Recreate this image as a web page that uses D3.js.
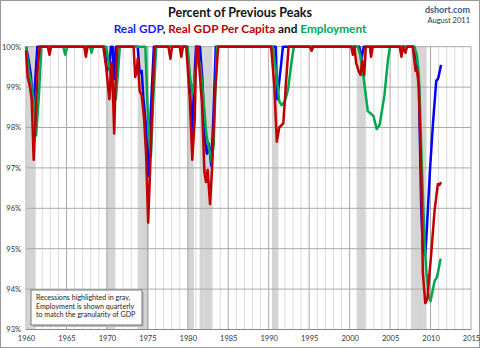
<!DOCTYPE html>
<html lang="en">
<head>
<meta charset="utf-8">
<title>Percent of Previous Peaks</title>
<script src="https://cdn.jsdelivr.net/npm/d3@7"></script>
<style>
  body { margin: 0; background: #fff; }
  text { font-family: Lato, "Open Sans", sans-serif; }
  .axis path, .axis line { display: none; }
  .axis text { font-size: 7.5px; fill: #333; font-family: Lato, sans-serif; }
</style>
</head>
<body>
<script>
// chart size and plot box
var width = 480, height = 348;
var plotLeft = 26, plotRight = 471, plotTop = 46.7, plotBottom = 329.5;

// recession periods (start, end) as decimal years
var recessions = [
  [1960.1, 1961.2], [1969.95, 1971.0], [1973.8, 1975.2], [1979.95, 1980.75],
  [1981.45, 1983.0], [1990.4, 1991.2], [2000.85, 2001.95], [2007.6, 2009.5]
];

// real GDP, percent of previous peak [year, pct]
var realGdp = [
  [1960.0, 100], [1960.3, 99.7], [1960.6, 99.3], [1960.9, 98.45], [1961.15, 99.2], [1961.4, 100],
  [1969.7, 100], [1970.0, 99.4], [1970.3, 99.5], [1970.5, 100], [1970.7, 100], [1970.9, 99.2], [1971.1, 100],
  [1973.8, 100], [1974.05, 99.35], [1974.3, 99.4], [1974.5, 98.75], [1974.8, 98.1], [1975.1, 96.8],
  [1975.4, 98.3], [1975.8, 100],
  [1979.95, 100], [1980.25, 99.1], [1980.5, 97.75], [1980.75, 98.9], [1981.0, 100],
  [1981.5, 100], [1981.8, 99.2], [1982.1, 97.7], [1982.35, 97.35], [1982.6, 97.6], [1982.9, 97.05],
  [1983.15, 98.2], [1983.45, 100],
  [1990.85, 100], [1991.05, 98.7], [1991.5, 99.5], [1991.75, 100],
  [2001.2, 100], [2001.45, 99.7], [2001.75, 100],
  [2007.95, 100], [2008.25, 99.7], [2008.55, 99.1], [2008.85, 96.0], [2009.05, 95.05], [2009.35, 94.85],
  [2009.55, 95.5], [2009.9, 96.85], [2010.3, 98.1], [2010.7, 99.15], [2010.95, 99.22], [2011.3, 99.55]
];

// real GDP per capita
var gdpPerCapita = [
  [1960.0, 99.9], [1960.2, 99.25], [1960.5, 99.0], [1960.7, 98.7], [1960.95, 97.2], [1961.2, 98.3],
  [1961.45, 99.5], [1961.7, 100],
  [1962.7, 100], [1962.9, 99.8], [1963.1, 100],
  [1967.2, 100], [1967.4, 99.75], [1967.6, 100],
  [1969.55, 100], [1969.9, 99.5], [1970.3, 98.7], [1970.55, 99.6], [1970.65, 99.5], [1970.9, 97.85],
  [1971.05, 99.0], [1971.3, 100],
  [1973.3, 100], [1973.5, 99.25], [1973.7, 99.4], [1973.8, 99.7], [1974.05, 98.9], [1974.3, 98.8],
  [1974.6, 98.2], [1974.85, 97.3], [1975.1, 95.65], [1975.35, 97.0], [1975.6, 98.5], [1975.9, 100],
  [1977.6, 100], [1977.85, 99.7], [1978.05, 100],
  [1979.0, 100], [1979.2, 99.75], [1979.4, 100],
  [1979.8, 100], [1980.25, 98.7], [1980.55, 97.2], [1980.85, 98.2], [1981.05, 100], [1981.25, 100],
  [1981.45, 99.4], [1981.75, 98.6], [1982.05, 96.9], [1982.25, 96.65], [1982.45, 96.95], [1982.75, 96.1],
  [1983.0, 97.0], [1983.35, 98.8], [1983.75, 100],
  [1990.3, 100], [1990.7, 99.0], [1991.0, 97.65], [1991.3, 98.0], [1991.8, 98.1], [1992.1, 99.0], [1992.45, 100],
  [1995.1, 100], [1995.3, 99.9], [1995.5, 100],
  [2000.2, 100], [2000.4, 99.8], [2000.6, 100], [2000.8, 99.6], [2001.1, 99.4], [2001.35, 99.3],
  [2001.55, 99.65], [2001.8, 99.3], [2002.0, 100], [2002.5, 100], [2002.65, 99.75], [2002.85, 100],
  [2006.2, 100], [2006.4, 99.75], [2006.6, 100], [2006.9, 99.85], [2007.1, 100],
  [2007.8, 100], [2008.15, 99.4], [2008.3, 99.5], [2008.55, 99.0], [2008.85, 96.85], [2009.05, 94.4],
  [2009.35, 93.65], [2009.6, 93.75], [2010.05, 94.8], [2010.5, 95.95], [2010.9, 96.6], [2011.1, 96.58],
  [2011.3, 96.65]
];

// employment, quarterly
var employment = [
  [1960.0, 100], [1960.4, 99.35], [1960.9, 98.75], [1961.25, 97.8], [1961.6, 98.8], [1961.9, 100],
  [1964.6, 100], [1964.85, 99.8], [1965.1, 100],
  [1967.9, 100], [1968.1, 99.85], [1968.3, 100],
  [1969.9, 100], [1970.3, 99.5], [1970.6, 99.1], [1970.9, 98.65], [1971.1, 98.7], [1971.35, 99.3], [1971.6, 100],
  [1974.75, 100], [1975.0, 98.6], [1975.3, 97.5], [1975.45, 97.3], [1975.7, 98.6], [1976.1, 100],
  [1979.95, 100], [1980.3, 99.2], [1980.6, 98.85], [1980.9, 99.3], [1981.2, 99.75], [1981.5, 99.6],
  [1981.85, 98.9], [1982.3, 97.8], [1982.95, 97.15], [1983.2, 97.6], [1983.6, 100],
  [1990.5, 100], [1990.9, 99.4], [1991.3, 98.65], [1991.6, 98.55], [1992.0, 98.65], [1992.4, 98.95],
  [1992.8, 99.6], [1993.1, 100],
  [2001.0, 100], [2001.3, 99.8], [2001.65, 99.35], [2002.25, 98.4], [2002.6, 98.35], [2002.95, 98.28],
  [2003.35, 97.96], [2003.7, 98.06], [2004.3, 98.8], [2004.75, 99.7], [2005.0, 100],
  [2008.0, 100], [2008.3, 99.8], [2008.55, 99.3], [2008.7, 98.5], [2008.95, 96.9], [2009.25, 95.2],
  [2009.5, 94.4], [2009.75, 93.85], [2010.0, 93.7], [2010.25, 93.95], [2010.5, 94.2], [2010.8, 94.3],
  [2011.25, 94.75]
];

var yTicks = [93, 94, 95, 96, 97, 98, 99, 100];
var xTicks = [1960, 1965, 1970, 1975, 1980, 1985, 1990, 1995, 2000, 2005, 2010, 2015];

var x = d3.scaleLinear().domain([1960, 2015]).range([plotLeft, plotRight]);
var y = d3.scaleLinear().domain([93, 100]).range([plotBottom, plotTop]);

var svg = d3.select("body").append("svg")
    .attr("width", width)
    .attr("height", height);

svg.append("rect")
    .attr("x", 0.5).attr("y", 0.5)
    .attr("width", width - 1).attr("height", height - 1)
    .attr("fill", "#fff").attr("stroke", "#999");

// recession shading
svg.selectAll("rect.recession")
    .data(recessions)
    .enter().append("rect")
    .attr("class", "recession")
    .attr("x", function(d) { return x(d[0]); })
    .attr("y", plotTop)
    .attr("width", function(d) { return x(d[1]) - x(d[0]); })
    .attr("height", plotBottom - plotTop)
    .attr("fill", "#d4d4d4");

// yearly gridlines, heavier every five years
svg.selectAll("line.year")
    .data(d3.range(1961, 2015))
    .enter().append("line")
    .attr("x1", function(d) { return x(d); })
    .attr("x2", function(d) { return x(d); })
    .attr("y1", plotTop).attr("y2", plotBottom)
    .attr("stroke", function(d) { return d % 5 === 0 ? "#a8a8a8" : "#dadada"; })
    .attr("stroke-width", 1);

svg.selectAll("line.pct")
    .data(yTicks)
    .enter().append("line")
    .attr("x1", plotLeft).attr("x2", plotRight)
    .attr("y1", function(d) { return y(d); })
    .attr("y2", function(d) { return y(d); })
    .attr("stroke", "#a8a8a8");

svg.append("line")
    .attr("x1", plotRight).attr("x2", plotRight).attr("y1", plotTop).attr("y2", plotBottom)
    .attr("stroke", "#a8a8a8");
svg.append("line")
    .attr("x1", plotLeft).attr("x2", plotLeft).attr("y1", plotTop).attr("y2", plotBottom)
    .attr("stroke", "#a8a8a8");

// axis labels
svg.append("g")
    .attr("class", "axis")
    .attr("transform", "translate(" + (plotLeft - 2) + ",0)")
    .call(d3.axisLeft(y).tickValues(yTicks).tickSize(0)
        .tickFormat(function(d) { return d + "%"; }));

svg.append("g")
    .attr("class", "axis")
    .attr("transform", "translate(0," + (plotBottom + 3) + ")")
    .call(d3.axisBottom(x).tickValues(xTicks).tickSize(0).tickFormat(d3.format("d")));

// series lines
var line = d3.line()
    .x(function(d) { return x(d[0]); })
    .y(function(d) { return y(d[1]); });

var series = [
  { data: realGdp, color: "#0000ff" },
  { data: employment, color: "#00a850" },
  { data: gdpPerCapita, color: "#c00000" }
];

svg.selectAll("path.series")
    .data(series)
    .enter().append("path")
    .attr("class", "series")
    .attr("d", function(d) { return line(d.data); })
    .attr("fill", "none")
    .attr("stroke", function(d) { return d.color; })
    .attr("stroke-width", 2.5)
    .attr("stroke-linejoin", "round");

svg.append("line")
    .attr("x1", plotLeft).attr("x2", plotRight).attr("y1", plotBottom).attr("y2", plotBottom)
    .attr("stroke", "#888");

// titles
svg.append("text")
    .attr("x", 240).attr("y", 17)
    .attr("text-anchor", "middle")
    .attr("font-size", 12.5).attr("font-weight", "bold")
    .attr("fill", "#111")
    .text("Percent of Previous Peaks");

var sub = svg.append("text")
    .attr("x", 240).attr("y", 33)
    .attr("text-anchor", "middle")
    .attr("font-size", 11.8).attr("font-weight", "bold");
sub.append("tspan").attr("fill", "#1a1aff").text("Real GDP");
sub.append("tspan").attr("fill", "#111").text(", ");
sub.append("tspan").attr("fill", "#c00000").text("Real GDP Per Capita");
sub.append("tspan").attr("fill", "#111").text(" and ");
sub.append("tspan").attr("fill", "#00a850").text("Employment");

svg.append("text")
    .attr("x", 470).attr("y", 13)
    .attr("text-anchor", "end")
    .attr("font-size", 9).attr("font-weight", "bold")
    .attr("fill", "#3a5a86")
    .text("dshort.com");
svg.append("text")
    .attr("x", 470).attr("y", 23)
    .attr("text-anchor", "end")
    .attr("font-size", 7.5)
    .attr("fill", "#333")
    .text("August 2011");

// note box
var note = svg.append("g").attr("transform", "translate(31,290)");
note.append("rect")
    .attr("x", 2).attr("y", 2).attr("width", 111).attr("height", 35)
    .attr("fill", "#bbb");
note.append("rect")
    .attr("width", 111).attr("height", 35)
    .attr("fill", "#fff").attr("stroke", "#777");
note.selectAll("text")
    .data(["Recessions highlighted in gray,",
           "Employment is shown quarterly",
           "to match the granularity of GDP"])
    .enter().append("text")
    .attr("x", 5)
    .attr("y", function(d, i) { return 10 + i * 8.5; })
    .attr("font-size", 7.1)
    .attr("fill", "#222")
    .text(function(d) { return d; });
</script>
</body>
</html>
